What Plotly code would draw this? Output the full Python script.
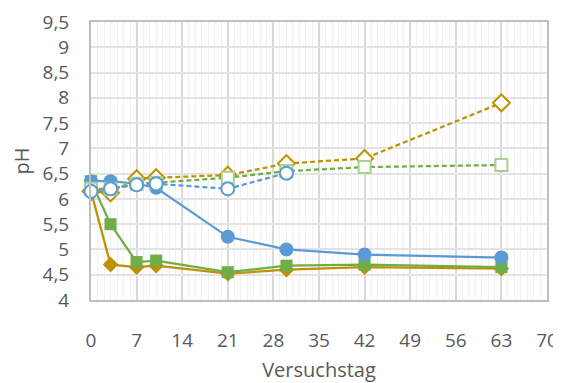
import plotly.graph_objects as go

days = [0, 3, 7, 10, 21, 30, 42, 63]
days_blue_open = [0, 3, 7, 10, 21, 30]

blue_solid = [6.35, 6.35, 6.3, 6.22, 5.25, 5.0, 4.9, 4.84]
green_solid = [6.35, 5.5, 4.75, 4.78, 4.55, 4.68, 4.7, 4.65]
gold_solid = [6.15, 4.7, 4.65, 4.68, 4.52, 4.6, 4.65, 4.62]
gold_dashed = [6.15, 6.12, 6.4, 6.42, 6.47, 6.7, 6.8, 7.9]
green_dashed = [6.2, 6.2, 6.3, 6.32, 6.42, 6.55, 6.63, 6.67]
blue_dashed = [6.15, 6.2, 6.28, 6.3, 6.2, 6.51]

BLUE = "#5B9BD5"
GREEN = "#70AD47"
GOLD = "#BF9000"
LIGHTGREEN = "#A9D18E"

fig = go.Figure()

def add(x, y, color, symbol, dash, filled, mcolor=None, size=12):
    mc = mcolor or color
    fig.add_trace(go.Scatter(
        x=x, y=y, mode="lines+markers",
        line=dict(color=color, width=2.25, dash=dash),
        marker=dict(symbol=symbol, size=size,
                    color=mc if filled else "white",
                    line=dict(color=mc, width=0 if filled else 2)),
        showlegend=False, cliponaxis=False))

add(days, gold_solid, GOLD, "diamond", "solid", True, size=12)
add(days, green_solid, GREEN, "square", "solid", True, size=12)
add(days, blue_solid, BLUE, "circle", "solid", True, size=14)
add(days, gold_dashed, GOLD, "diamond", "5px,3px", False, size=13)
add(days, green_dashed, GREEN, "square", "5px,3px", False, mcolor=LIGHTGREEN, size=12)
add(days_blue_open, blue_dashed, BLUE, "circle", "5px,3px", False, size=13)

FONT = "Open Sans, Liberation Sans, sans-serif"
tickfont = dict(family=FONT, size=19, color="#595959")

# the page body adds an 8px offset, so the figure is sized to fit the window
fig.update_layout(
    width=553, height=375,
    margin=dict(l=83, r=14, t=14, b=83),
    paper_bgcolor="white", plot_bgcolor="white",
    separators=", ",
    xaxis=dict(
        range=[0, 70], dtick=7, tick0=0, automargin=False,
        showgrid=True, gridcolor="#D9D9D9", gridwidth=1.5,
        minor=dict(dtick=1, showgrid=True, gridcolor="#F0F0F0", gridwidth=1),
        showline=True, linecolor="#BFBFBF", linewidth=2, mirror=True,
        ticks="outside", ticklen=22, tickcolor="rgba(0,0,0,0)",
        tickfont=tickfont, zeroline=False,
        title=dict(text="Versuchstag", font=dict(family=FONT, size=20, color="#595959"), standoff=12),
    ),
    yaxis=dict(
        range=[4, 9.5], dtick=0.5, tick0=4, automargin=False,
        showgrid=True, gridcolor="#E3E3E3", gridwidth=1.5,
        showline=True, linecolor="#BFBFBF", linewidth=2, mirror=True,
        ticks="outside", ticklen=16, tickcolor="rgba(0,0,0,0)",
        tickfont=tickfont, zeroline=False,
        title=dict(text="pH", font=dict(family=FONT, size=20, color="#595959"), standoff=12),
    ),
)

fig.write_html("out.html")
